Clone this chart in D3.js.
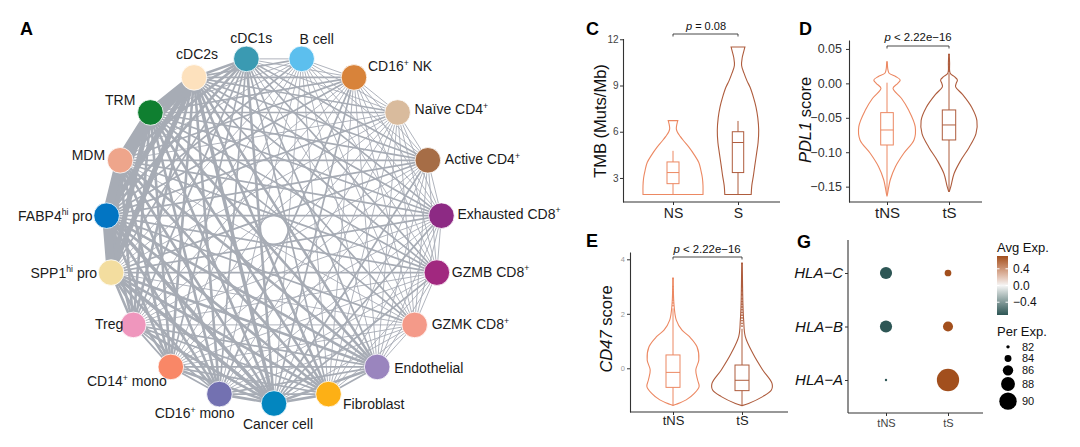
<html>
<head>
<script src="https://d3js.org/d3.v7.min.js"></script>
<style>
  body { margin: 0; background: #fff; }
  svg text { font-family: "Liberation Sans", Arial, sans-serif; }
</style>
</head>
<body>
<svg id="fig" width="1080" height="447"></svg>
<script>
// ---------- A: interaction network ----------
var cellTypes = ['cDC1s', 'B cell', 'CD16^+ NK', 'Naïve CD4^+', 'Active CD4^+', 'Exhausted CD8^+',
  'GZMB CD8^+', 'GZMK CD8^+', 'Endothelial', 'Fibroblast', 'Cancer cell', 'CD16^+ mono',
  'CD14^+ mono', 'Treg', 'SPP1^hi pro', 'FABP4^hi pro', 'MDM', 'TRM', 'cDC2s'];
var cellColors = ['#3a9ab2', '#5cbfee', '#d8833a', '#d9bb9d', '#a66d46', '#8d2a84',
  '#a1287f', '#f49a89', '#9a85be', '#fdb015', '#0386bf', '#7371b1',
  '#f98767', '#ef96bd', '#f3dd9f', '#0275c3', '#eea58b', '#0f7f30', '#fde1bd'];
// strength level (0-6) of each cell type with every later one in the list
var edgeLevels = [
  '111222122322223333',
  '11111111111112112',
  '1111111221112222',
  '111111111112122',
  '11111211122222',
  '1111211122222',
  '111211122222',
  '11111112122',
  '2322233333',
  '322233333',
  '33344334',
  '2233333',
  '233333',
  '33333',
  '6555',
  '655',
  '65',
  '6'
];

// ---------- C: TMB ----------
var tmbGroups = ['NS', 'S'];
var tmbTicks = [3, 6, 9, 12];
var tmbNSProfile = [[1.93, 1], [2.5, 1], [3.0, .98], [3.5, .93], [4.0, .86], [4.5, .71], [5.0, .53],
  [5.4, .36], [5.7, .24], [6.0, .14], [6.2, .11], [6.5, .13], [6.72, .16]];
var tmbSProfile = [[1.93, .44], [2.5, .46], [3.1, .51], [3.8, .56], [4.6, .62], [5.3, .67], [6.1, .69],
  [6.9, .66], [7.6, .6], [8.2, .52], [8.9, .4], [9.3, .3], [9.8, .2], [10.3, .12], [10.8, .14],
  [11.2, .19], [11.5, .23]];
var tmbBoxNS = [1.93, 2.63, 3.35, 4.04, 4.76];
var tmbBoxS = [1.93, 3.35, 5.3, 6.0, 6.7];

// ---------- D: PDL1 score ----------
var scoreGroups = ['tNS', 'tS'];
var pdl1Ticks = [0.05, 0.00, -0.05, -0.10, -0.15];
var pdl1TNSProfile = [[0.0315, .01], [0.02, .03], [0.0147, .07], [0.0097, .3], [0.0049, .44], [0.0, .36],
  [-0.0071, .2], [-0.0216, .48], [-0.0386, .72], [-0.0629, .94], [-0.0822, .9], [-0.1015, .56],
  [-0.121, .28], [-0.140, .11], [-0.160, .02], [-0.164, 0]];
var pdl1TSProfile = [[0.042, .01], [0.03, .02], [0.0147, .04], [0.0097, .18], [0.0049, .28], [0.0, .24],
  [-0.005, .22], [-0.016, .45], [-0.035, .76], [-0.054, .93], [-0.073, .9], [-0.093, .67],
  [-0.112, .39], [-0.131, .17], [-0.150, .06], [-0.157, .01]];
var pdl1BoxTNS = [-0.160, -0.0895, -0.0677, -0.0425, 0.001];
var pdl1BoxTS = [-0.157, -0.0822, -0.0604, -0.0386, 0.0147];
var pdl1OutTS = [0.018, 0.022, 0.028, 0.035, 0.042];

// ---------- E: CD47 score ----------
var cd47Ticks = [0, 2, 4];
var cd47TNSProfile = [[3.3, .01], [2.39, .03], [1.77, .11], [1.4, .3], [1.16, .55], [0.79, .8], [0.3, .86],
  [-0.06, .76], [-0.43, .82], [-0.67, .87], [-0.92, .71], [-1.16, .44], [-1.32, .11], [-1.36, 0]];
var cd47TSProfile = [[3.85, .01], [2.39, .03], [1.77, .055], [1.16, .11], [0.55, .36], [-0.06, .69],
  [-0.55, 1.0], [-0.80, .98], [-1.04, .69], [-1.29, .22], [-1.37, 0]];
var cd47BoxTNS = [-1.35, -0.70, -0.15, 0.49, 2.2];
var cd47BoxTS = [-1.37, -0.82, -0.44, 0.12, 1.45];
var cd47OutTNS = [2.3, 2.4, 2.5, 2.6, 2.7, 2.8, 2.9, 3.0, 3.3];
var cd47OutTS = [1.55, 1.65, 1.75, 1.85, 1.95, 2.05, 2.15, 2.25, 2.35, 2.45, 2.55, 2.7, 2.85, 3.0, 3.2, 3.85];

// ---------- G: HLA dot plot ----------
var hlaGenes = ['HLA−C', 'HLA−B', 'HLA−A'];
var avgExpTNS = [-0.707, -0.707, -0.707];
var avgExpTS = [0.707, 0.707, 0.707];
var pctExpTNS = [87.0, 87.0, 81.4];
var pctExpTS = [83.9, 85.8, 92.8];
var avgExpBreaks = [0.4, 0.0, -0.4];
var pctExpBreaks = [82, 84, 86, 88, 90];

var svg = d3.select('#fig');
var colNS = '#ec8862', colS = '#ae5c3d', axisCol = '#333';

// superscript helper: "CD16^+ NK"
function richText(sel, str, fs) {
  var parts = str.split(/\^(\S+)/);
  parts.forEach(function (p, k) {
    if (!p) return;
    var sup = k % 2 === 1;
    var t = sel.append('tspan').text(p).attr('font-size', sup ? fs * 0.62 : fs);
    if (sup) t.attr('dy', -fs * 0.38);
    else if (k > 0) t.attr('dy', fs * 0.38);
  });
}

function panelLetter(txt, x, y) {
  svg.append('text').attr('x', x).attr('y', y).attr('font-size', 18).attr('font-weight', 700)
    .attr('fill', '#000').text(txt);
}

// ---------------- network ----------------
var net = svg.append('g');
var angle = d3.scaleLinear().domain([0, cellTypes.length])
  .range([-99.47 * Math.PI / 180, (360 - 99.47) * Math.PI / 180]);
function nx(i) { return 274 + 168 * Math.cos(angle(i)); }
function ny(i) { return 230 + 173.5 * Math.sin(angle(i)); }
var edgeWidth = d3.scaleOrdinal().domain([1, 2, 3, 4, 5, 6]).range([0.9, 1.7, 2.6, 3.6, 5.2, 9]);

var edges = [];
edgeLevels.forEach(function (row, i) {
  row.split('').forEach(function (c, k) {
    if (+c > 0) edges.push({ s: i, t: i + 1 + k, lv: +c });
  });
});
edges.sort(function (a, b) { return a.lv - b.lv; });

net.selectAll('line.edge').data(edges).enter().append('line')
  .attr('x1', function (d) { return nx(d.s); }).attr('y1', function (d) { return ny(d.s); })
  .attr('x2', function (d) { return nx(d.t); }).attr('y2', function (d) { return ny(d.t); })
  .attr('stroke', '#a7acb5').attr('stroke-width', function (d) { return edgeWidth(d.lv); })
  .attr('stroke-linecap', 'round');

net.selectAll('circle.node').data(cellTypes).enter().append('circle')
  .attr('cx', function (d, i) { return nx(i); }).attr('cy', function (d, i) { return ny(i); })
  .attr('r', 12.8).attr('fill', function (d, i) { return cellColors[i]; })
  .attr('stroke', '#fff').attr('stroke-width', 0.8);

// label placement relative to node centre: [dx, dy, anchor]
var labelOffsets = [[5, -16, 'middle'], [15, -15, 'middle'], [14, -6, 'start'], [17, 2, 'start'],
  [17, 4, 'start'], [16, 3, 'start'], [15, 4, 'start'], [17, 4, 'start'], [17, 6, 'start'],
  [14.5, 15, 'start'], [4, 25, 'middle'], [15, 24, 'end'], [-4, 19, 'end'], [-10, 4, 'end'],
  [-14, 5, 'end'], [-14, 5, 'end'], [-15, 0, 'end'], [-15, -7, 'end'], [3, -18, 'middle']];
cellTypes.forEach(function (name, i) {
  var o = labelOffsets[i];
  var t = net.append('text').attr('x', nx(i) + o[0]).attr('y', ny(i) + o[1])
    .attr('text-anchor', o[2]).attr('fill', '#1a1a1a');
  richText(t, name, 14);
});
panelLetter('A', 20, 35);

// ---------------- shared violin helpers ----------------
var violinW = d3.scaleLinear().domain([0, 1]).range([0, 30]);

function violin(g, profile, cx, y, color) {
  var area = d3.area().curve(d3.curveCatmullRom)
    .y(function (d) { return y(d[0]); })
    .x0(function (d) { return cx - violinW(d[1]); })
    .x1(function (d) { return cx + violinW(d[1]); });
  g.append('path').attr('d', area(profile)).attr('fill', 'none')
    .attr('stroke', color).attr('stroke-width', 1.1);
}

function boxplot(g, st, cx, y, hw, color) {
  g.append('line').attr('x1', cx).attr('x2', cx).attr('y1', y(st[0])).attr('y2', y(st[1]))
    .attr('stroke', color).attr('stroke-width', 1);
  g.append('line').attr('x1', cx).attr('x2', cx).attr('y1', y(st[3])).attr('y2', y(st[4]))
    .attr('stroke', color).attr('stroke-width', 1);
  g.append('rect').attr('x', cx - hw).attr('y', y(st[3])).attr('width', 2 * hw)
    .attr('height', y(st[1]) - y(st[3])).attr('fill', 'none').attr('stroke', color).attr('stroke-width', 1);
  g.append('line').attr('x1', cx - hw).attr('x2', cx + hw).attr('y1', y(st[2])).attr('y2', y(st[2]))
    .attr('stroke', color).attr('stroke-width', 1);
}

function outliers(g, vals, cx, y, color) {
  g.selectAll(null).data(vals).enter().append('circle')
    .attr('cx', cx).attr('cy', function (d) { return y(d); }).attr('r', 0.9).attr('fill', color);
}

function yAxis(g, y, x0, ticks, fmt, fs, col, pad) {
  var ax = g.append('g').attr('transform', 'translate(' + x0 + ',0)')
    .call(d3.axisLeft(y).tickValues(ticks).tickFormat(fmt).tickSize(3).tickSizeOuter(0).tickPadding(pad));
  ax.select('.domain').attr('stroke', axisCol).attr('stroke-width', 1.1);
  ax.selectAll('.tick line').attr('stroke', axisCol);
  ax.selectAll('.tick text').attr('font-size', fs).attr('fill', col)
    .attr('font-family', '"Liberation Sans", Arial, sans-serif');
  ax.attr('font-family', null);
}

function xAxis(g, x, y0, xa, xb, fs, col, baseline) {
  g.append('line').attr('x1', xa).attr('x2', xb).attr('y1', y0).attr('y2', y0)
    .attr('stroke', axisCol).attr('stroke-width', 1.1);
  var ax = g.append('g').attr('transform', 'translate(0,' + y0 + ')')
    .call(d3.axisBottom(x).tickSize(3).tickSizeOuter(0));
  ax.select('.domain').remove();
  ax.selectAll('.tick line').attr('stroke', axisCol);
  ax.selectAll('.tick text').attr('font-size', fs).attr('fill', col).attr('dy', null)
    .attr('y', baseline - y0).attr('font-family', '"Liberation Sans", Arial, sans-serif');
}

function bracket(g, xa, xb, yb, label, fs, tx, ty) {
  g.append('path').attr('d', 'M' + xa + ',' + (yb + 2.5) + 'V' + yb + 'H' + xb + 'V' + (yb + 2.5))
    .attr('fill', 'none').attr('stroke', axisCol).attr('stroke-width', 0.9);
  var t = g.append('text').attr('x', tx).attr('y', ty).attr('text-anchor', 'middle')
    .attr('font-size', fs).attr('fill', '#111');
  t.append('tspan').attr('font-style', 'italic').text('p');
  t.append('tspan').text(label);
}

function yLabel(g, x, y, italicPart, rest, fs) {
  var t = g.append('text').attr('transform', 'translate(' + x + ',' + y + ') rotate(-90)')
    .attr('text-anchor', 'middle').attr('font-size', fs).attr('fill', '#111');
  if (italicPart) t.append('tspan').attr('font-style', 'italic').text(italicPart);
  t.append('tspan').text(rest);
}

// ---------------- C ----------------
var gC = svg.append('g');
var yC = d3.scaleLinear().domain([1.44, 12.05]).range([202, 38.5]);
var xC = d3.scalePoint().domain(tmbGroups).range([673, 738]);
violin(gC, tmbNSProfile, xC('NS'), yC, colNS);
violin(gC, tmbSProfile, xC('S'), yC, colS);
boxplot(gC, tmbBoxNS, xC('NS'), yC, 6, colNS);
boxplot(gC, tmbBoxS, xC('S'), yC, 5.7, colS);
yAxis(gC, yC, 623, tmbTicks, d3.format('d'), 10, '#444', 1.5);
xAxis(gC, xC, 202, 623, 780, 14, '#222', 218);
yLabel(gC, 606, 121, '', 'TMB (Muts/Mb)', 16.5);
bracket(gC, xC('NS'), xC('S'), 34, ' = 0.08', 11, 706, 30);
panelLetter('C', 586, 35);

// ---------------- D ----------------
var gD = svg.append('g');
var yD = d3.scaleLinear().domain([-0.1723, 0.063]).range([202, 40]);
var xD = d3.scalePoint().domain(scoreGroups).range([887, 949]);
violin(gD, pdl1TNSProfile, xD('tNS'), yD, colNS);
violin(gD, pdl1TSProfile, xD('tS'), yD, colS);
boxplot(gD, pdl1BoxTNS, xD('tNS'), yD, 6.3, colNS);
boxplot(gD, pdl1BoxTS, xD('tS'), yD, 6.7, colS);
outliers(gD, pdl1OutTS, xD('tS'), yD, colS);
yAxis(gD, yD, 849, pdl1Ticks, d3.format('.2f'), 12.5, '#333', 4);
xAxis(gD, xD, 202, 849, 982, 15, '#222', 218);
yLabel(gD, 811, 120, 'PDL1', ' score', 16.5);
bracket(gD, xD('tNS'), xD('tS'), 46, ' < 2.22e−16', 11.4, 918, 41);
panelLetter('D', 799, 35);

// ---------------- E ----------------
var gE = svg.append('g');
var yE = d3.scaleLinear().domain([-1.604, 4.268]).range([412, 252]);
var xE = d3.scalePoint().domain(scoreGroups).range([673, 742]);
violin(gE, cd47TNSProfile, xE('tNS'), yE, colNS);
violin(gE, cd47TSProfile, xE('tS'), yE, colS);
outliers(gE, cd47OutTNS, xE('tNS'), yE, colNS);
outliers(gE, cd47OutTS, xE('tS'), yE, colS);
boxplot(gE, cd47BoxTNS, xE('tNS'), yE, 7, colNS);
boxplot(gE, cd47BoxTS, xE('tS'), yE, 7, colS);
yAxis(gE, yE, 630, cd47Ticks, d3.format('d'), 7.5, '#999', 2);
xAxis(gE, xE, 412, 630, 788, 13, '#222', 425);
yLabel(gE, 612, 329, 'CD47', ' score', 16.5);
bracket(gE, xE('tNS'), xE('tS'), 257, ' < 2.22e−16', 11.4, 707, 253);
panelLetter('E', 586, 247);

// ---------------- G ----------------
var gG = svg.append('g');
var yG = d3.scalePoint().domain(hlaGenes).range([273, 380]);
var xG = d3.scalePoint().domain(scoreGroups).range([886, 948]);
var sizeG = d3.scaleLinear().domain([82, 90]).range([1.7, 8.7]);
var colorG = d3.scaleLinear().domain([-0.707, 0, 0.707]).range(['#2d5655', '#f6f6f6', '#a24f1d'])
  .interpolate(d3.interpolateLab);

var ayG = gG.append('g').attr('transform', 'translate(848,0)')
  .call(d3.axisLeft(yG).tickSize(3).tickSizeOuter(0).tickPadding(2));
ayG.select('.domain').remove();
ayG.selectAll('.tick line').attr('stroke', axisCol);
ayG.selectAll('.tick text').attr('font-size', 15).attr('font-style', 'italic').attr('fill', '#111')
  .attr('font-family', '"Liberation Sans", Arial, sans-serif');
gG.append('line').attr('x1', 848).attr('x2', 848).attr('y1', 240).attr('y2', 413)
  .attr('stroke', axisCol).attr('stroke-width', 1.1);
xAxis(gG, xG, 413, 848, 983, 11, '#444', 427);

var dotRows = [];
hlaGenes.forEach(function (g, i) {
  dotRows.push({ gene: g, grp: 'tNS', avg: avgExpTNS[i], pct: pctExpTNS[i] });
  dotRows.push({ gene: g, grp: 'tS', avg: avgExpTS[i], pct: pctExpTS[i] });
});
gG.selectAll('circle.dot').data(dotRows).enter().append('circle')
  .attr('cx', function (d) { return xG(d.grp); }).attr('cy', function (d) { return yG(d.gene); })
  .attr('r', function (d) { return Math.max(0.9, sizeG(d.pct)); })
  .attr('fill', function (d) { return colorG(d.avg); });
panelLetter('G', 797, 248);

// legend: Avg Exp.
var lg = svg.append('g');
lg.append('text').attr('x', 997).attr('y', 252).attr('font-size', 13).attr('fill', '#111').text('Avg Exp.');
var barY = d3.scaleLinear().domain([-0.707, 0.707]).range([315, 256]);
var grad = svg.append('defs').append('linearGradient').attr('id', 'avgGrad')
  .attr('x1', 0).attr('y1', 1).attr('x2', 0).attr('y2', 0);
d3.range(0, 1.0001, 0.1).forEach(function (f) {
  grad.append('stop').attr('offset', f).attr('stop-color', colorG(-0.707 + f * 1.414));
});
lg.append('rect').attr('x', 997).attr('y', 256).attr('width', 11).attr('height', 59).attr('fill', 'url(#avgGrad)');
avgExpBreaks.forEach(function (b) {
  lg.append('line').attr('x1', 997).attr('x2', 999.5).attr('y1', barY(b)).attr('y2', barY(b)).attr('stroke', '#fff');
  lg.append('line').attr('x1', 1005.5).attr('x2', 1008).attr('y1', barY(b)).attr('y2', barY(b)).attr('stroke', '#fff');
  lg.append('text').attr('x', 1013).attr('y', barY(b) + 4.3).attr('font-size', 12).attr('fill', '#111')
    .text(b === 0 ? '0.0' : d3.format('.1f')(b).replace('-', '−'));
});

// legend: Per Exp.
lg.append('text').attr('x', 997).attr('y', 336).attr('font-size', 13).attr('fill', '#111').text('Per Exp.');
var keyTop = 341;
pctExpBreaks.forEach(function (b) {
  var r = sizeG(b);
  var h = Math.max(11.7, 2 * r + 1.5);
  var cy = keyTop + h / 2;
  lg.append('circle').attr('cx', 1008).attr('cy', cy).attr('r', r).attr('fill', '#000');
  lg.append('text').attr('x', 1022).attr('y', cy + 3.9).attr('font-size', 11).attr('fill', '#111').text(b);
  keyTop += h;
});
</script>
</body>
</html>
